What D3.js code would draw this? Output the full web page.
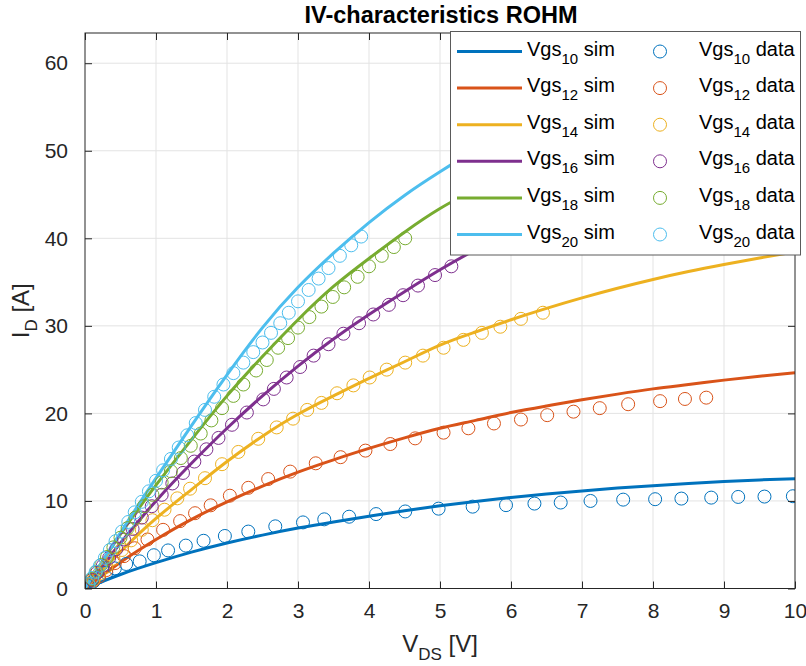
<!DOCTYPE html>
<html>
<head>
<meta charset="utf-8">
<title>IV-characteristics ROHM</title>
<script src="https://d3js.org/d3.v7.min.js"></script>
<style>
  body { margin: 0; background: #fff; }
  text { font-family: "Liberation Sans", Arial, Helvetica, sans-serif; fill: #262626; }
  .grid line { stroke: #e3e3e3; stroke-width: 1; }
  .sim { fill: none; stroke-width: 3; }
  .pt { fill: none; stroke-width: 1; }
</style>
</head>
<body>
<svg id="chart" width="806" height="666"></svg>
<script>

// grid of the simulated curves, V_DS [V]
var simV = [0,0.5,1,1.5,2,2.5,3,3.5,4,4.5,5,5.5,6,6.5,7,7.5,8,8.5,9,9.5,10];

// simulated I_D [A]
var sim10 = [0,1.6,2.95,4.15,5.2,6.1,6.9,7.6,8.25,8.88,9.45,9.95,10.4,10.8,11.15,11.47,11.75,12.0,12.22,12.4,12.55];
var sim12 = [0,3.0,5.6,7.9,9.9,11.7,13.3,14.7,16.0,17.2,18.3,19.2,20.1,20.85,21.55,22.2,22.8,23.3,23.8,24.25,24.65];
var sim14 = [0,4.2,8.0,11.3,14.5,17.4,19.9,22.0,24.0,25.9,27.8,29.3,30.7,32.0,33.2,34.3,35.3,36.2,37.0,37.75,38.45];
var sim16 = [0,5.2,10.0,14.3,18.3,22.0,25.4,28.5,31.3,33.9,36.4,38.7,40.8,42.7,44.5,46.1,47.6,49.0,50.3,51.5,52.6];
var sim18 = [0,6.2,11.8,17.0,22.0,26.5,30.7,34.5,37.7,40.7,43.4,45.6,47.6,49.4,51.0,52.5,53.9,55.2,56.4,57.5,58.5];
var sim20 = [0,6.4,12.6,18.6,24.4,29.8,34.4,38.3,41.8,44.9,47.6,50.1,52.4,54.5,56.4,58.2,59.9,61.5,63.0,64.4,65.7];

// measured points
var dV10 = [0.05,0.12,0.2,0.3,0.42,0.58,0.77,0.97,1.17,1.42,1.67,1.97,2.30,2.68,3.07,3.37,3.72,4.10,4.51,4.98,5.46,5.93,6.33,6.70,7.12,7.58,8.03,8.40,8.82,9.20,9.57,9.97];
var dI10 = [0.3,0.8,1.3,1.8,2.3,2.8,3.1,3.8,4.35,4.9,5.45,6.0,6.5,7.1,7.55,7.9,8.2,8.5,8.8,9.12,9.35,9.52,9.7,9.82,10.0,10.15,10.2,10.27,10.38,10.46,10.5,10.54];

var dV12 = [0.05,0.12,0.2,0.3,0.42,0.55,0.7,0.88,1.10,1.34,1.55,1.77,2.04,2.30,2.58,2.89,3.25,3.60,3.95,4.30,4.65,5.05,5.40,5.76,6.14,6.51,6.88,7.25,7.65,8.10,8.45,8.75];
var dI12 = [0.4,0.9,1.4,2.1,2.9,3.7,4.6,5.6,6.7,7.7,8.6,9.5,10.6,11.5,12.5,13.35,14.3,15.0,15.75,16.5,17.15,17.8,18.3,18.85,19.3,19.8,20.2,20.6,21.05,21.4,21.65,21.8];

var dV14 = [0.05,0.12,0.2,0.3,0.4,0.52,0.65,0.8,0.95,1.12,1.30,1.48,1.69,1.93,2.16,2.44,2.70,2.93,3.13,3.33,3.55,3.78,4.01,4.25,4.51,4.76,5.05,5.33,5.59,5.85,6.14,6.45];
var dI14 = [0.4,1.0,1.7,2.5,3.4,4.4,5.5,6.7,7.8,9.0,10.3,11.4,12.6,14.2,15.6,17.1,18.4,19.4,20.4,21.2,22.3,23.2,24.1,25.0,25.8,26.6,27.5,28.4,29.2,29.9,30.8,31.5];

var dV16 = [0.05,0.1,0.17,0.25,0.34,0.44,0.55,0.67,0.8,0.94,1.08,1.23,1.38,1.54,1.71,1.88,2.07,2.28,2.51,2.66,2.84,3.03,3.22,3.43,3.64,3.86,4.06,4.28,4.48,4.69,4.93,5.16];
var dI16 = [0.5,1.0,1.8,2.6,3.5,4.5,5.6,6.8,8.1,9.4,10.7,12.0,13.2,14.5,15.9,17.2,18.7,20.1,21.6,22.8,24.1,25.3,26.6,27.9,29.1,30.3,31.3,32.4,33.5,34.6,35.8,36.8];

var dV18 = [0.05,0.1,0.16,0.23,0.31,0.4,0.5,0.6,0.71,0.83,0.95,1.08,1.21,1.35,1.49,1.63,1.78,1.93,2.09,2.23,2.41,2.56,2.72,2.86,3.0,3.16,3.33,3.49,3.65,3.84,4.0,4.18,4.35,4.51];
var dI18 = [0.5,1.1,1.9,2.7,3.6,4.7,5.8,6.9,8.1,9.4,10.7,12.1,13.4,14.9,16.3,17.7,19.2,20.6,22.0,23.3,24.9,26.1,27.5,28.6,29.8,31.0,32.2,33.3,34.4,35.6,36.8,38.0,39.0,40.0];

var dV20 = [0.05,0.1,0.15,0.21,0.28,0.35,0.43,0.52,0.61,0.7,0.8,0.9,1.0,1.1,1.21,1.32,1.44,1.56,1.69,1.82,1.95,2.09,2.23,2.37,2.5,2.62,2.75,2.87,3.0,3.15,3.29,3.43,3.59,3.75,3.89];
var dI20 = [0.5,1.2,1.9,2.6,3.5,4.4,5.4,6.5,7.6,8.7,9.9,11.1,12.3,13.5,14.8,16.1,17.5,18.9,20.4,21.9,23.3,24.6,25.8,27.0,28.1,29.2,30.3,31.5,32.8,34.1,35.4,36.6,38.0,39.2,40.2];

var vgsNames = ["10","12","14","16","18","20"];
var colors = ["#0072BD","#D95319","#EDB120","#7E2F8E","#77AC30","#4DBEEE"];
var xTicks = [0,1,2,3,4,5,6,7,8,9,10];
var yTicks = [0,10,20,30,40,50,60];

(function() {
  var sims = [sim10, sim12, sim14, sim16, sim18, sim20];
  var dataV = [dV10, dV12, dV14, dV16, dV18, dV20];
  var dataI = [dI10, dI12, dI14, dI16, dI18, dI20];

  var series = vgsNames.map(function(n, i) {
    return {
      name: n,
      color: colors[i],
      sim: simV.map(function(v, j) { return [v, sims[i][j]]; }),
      pts: dataV[i].map(function(v, j) { return [v, dataI[i][j]]; })
    };
  });

  var svg = d3.select("#chart");
  var pL = 85, pR = 795, pT = 33, pB = 588.5;

  var x = d3.scaleLinear().domain([0, 10]).range([pL, pR]);
  var y = d3.scaleLinear().domain([0, 63.45]).range([pB, pT]);

  // grid
  var grid = svg.append("g").attr("class", "grid");
  grid.selectAll(".gx").data(xTicks.slice(1, -1)).enter().append("line")
    .attr("x1", function(d) { return x(d); }).attr("x2", function(d) { return x(d); })
    .attr("y1", pT).attr("y2", pB);
  grid.selectAll(".gy").data(yTicks.slice(1)).enter().append("line")
    .attr("y1", function(d) { return y(d); }).attr("y2", function(d) { return y(d); })
    .attr("x1", pL).attr("x2", pR);

  svg.append("clipPath").attr("id", "clip")
    .append("rect").attr("x", pL).attr("y", pT).attr("width", pR - pL).attr("height", pB - pT);

  var plot = svg.append("g").attr("clip-path", "url(#clip)");

  var line = d3.line()
    .x(function(d) { return x(d[0]); })
    .y(function(d) { return y(d[1]); })
    .curve(d3.curveNatural);

  series.forEach(function(s) {
    plot.append("path").attr("class", "sim")
      .attr("d", line(s.sim))
      .style("stroke", s.color);
  });
  series.forEach(function(s) {
    plot.selectAll(null).data(s.pts).enter().append("circle")
      .attr("class", "pt")
      .attr("cx", function(d) { return x(d[0]); })
      .attr("cy", function(d) { return y(d[1]); })
      .attr("r", 6.5)
      .style("stroke", s.color);
  });

  // axes: box with inward ticks on all four sides
  var tick = -7;
  function styleAxis(g) {
    g.select(".domain").remove();
    g.selectAll(".tick line").attr("stroke", "#262626");
    g.selectAll("text").style("font-size", "21px").style("fill", "#262626")
      .style("font-family", "'Liberation Sans', Arial, sans-serif");
  }
  svg.append("g").attr("transform", "translate(0," + pB + ")")
    .call(d3.axisBottom(x).tickValues(xTicks).tickSize(tick).tickPadding(15))
    .call(styleAxis);
  svg.append("g").attr("transform", "translate(0," + pT + ")")
    .call(d3.axisTop(x).tickValues(xTicks).tickSize(tick).tickFormat(""))
    .call(styleAxis);
  svg.append("g").attr("transform", "translate(" + pL + ",0)")
    .call(d3.axisLeft(y).tickValues(yTicks).tickSize(tick).tickPadding(17))
    .call(styleAxis);
  svg.append("g").attr("transform", "translate(" + pR + ",0)")
    .call(d3.axisRight(y).tickValues(yTicks).tickSize(tick).tickFormat(""))
    .call(styleAxis);

  svg.append("rect")
    .attr("x", pL).attr("y", pT).attr("width", pR - pL).attr("height", pB - pT)
    .attr("fill", "none").attr("stroke", "#262626").attr("stroke-width", 1);

  // title and axis labels
  svg.append("text").attr("x", (pL + pR) / 2 + 1).attr("y", 23)
    .attr("text-anchor", "middle").style("font-size", "23.5px").style("font-weight", "bold")
    .style("fill", "#000")
    .text("IV-characteristics ROHM");

  var xl = svg.append("text").attr("x", (pL + pR) / 2).attr("y", 652)
    .attr("text-anchor", "middle").style("font-size", "24px");
  xl.append("tspan").text("V");
  xl.append("tspan").attr("dy", 8).style("font-size", "17px").text("DS");
  xl.append("tspan").attr("dy", -8).text(" [V]");

  var yl = svg.append("text")
    .attr("transform", "translate(29," + ((pT + pB) / 2) + ") rotate(-90)")
    .attr("text-anchor", "middle").style("font-size", "24px");
  yl.append("tspan").text("I");
  yl.append("tspan").attr("dy", 8).style("font-size", "17px").text("D");
  yl.append("tspan").attr("dy", -8).text(" [A]");

  // legend
  var lg = svg.append("g");
  lg.append("rect").attr("x", 450.5).attr("y", 31.5).attr("width", 350).attr("height", 223.5)
    .attr("fill", "#fff").attr("stroke", "#5a5a5a").attr("stroke-width", 1);

  var rowY = d3.scaleLinear().domain([0, 5]).range([51.5, 234.5]);
  series.forEach(function(s, i) {
    var ry = rowY(i);
    lg.append("line").attr("x1", 457).attr("x2", 522).attr("y1", ry).attr("y2", ry)
      .attr("stroke", s.color).attr("stroke-width", 3);
    lg.append("circle").attr("cx", 660).attr("cy", ry).attr("r", 6.5)
      .attr("fill", "none").attr("stroke", s.color).attr("stroke-width", 1);
    [[527, " sim"], [699, " data"]].forEach(function(c) {
      var t = lg.append("text").attr("x", c[0]).attr("y", ry + 4).style("font-size", "20px").style("fill", "#000");
      t.append("tspan").text("Vgs");
      t.append("tspan").attr("dy", 8).style("font-size", "15px").text(s.name);
      t.append("tspan").attr("dy", -8).text(c[1]);
    });
  });
})();
</script>
</body>
</html>
